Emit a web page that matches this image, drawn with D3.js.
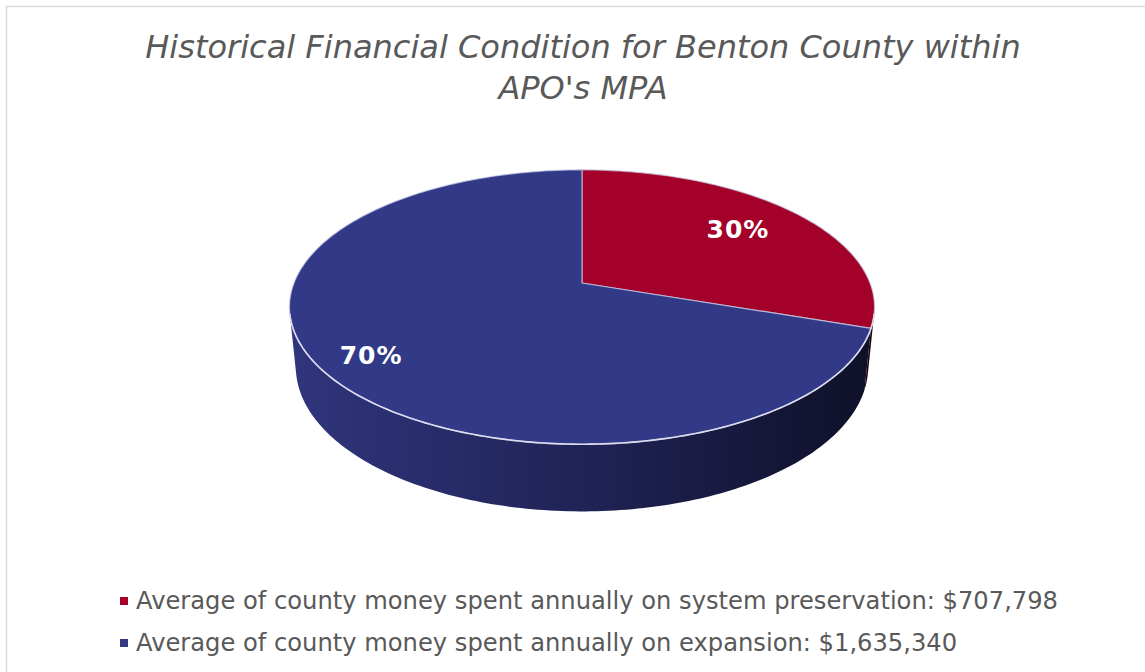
<!DOCTYPE html>
<html>
<head>
<meta charset="utf-8">
<script src="https://cdn.jsdelivr.net/npm/d3@7"></script>
<style>
  html, body { margin: 0; padding: 0; background: #ffffff; }
  svg { display: block; }
</style>
</head>
<body>
<svg id="chart" width="1145" height="672"></svg>
<script>
// ---- data ----
const titleLines = ["Historical Financial Condition for Benton County within", "APO's MPA"];
const categories = [
  "Average of county money spent annually on system preservation: $707,798",
  "Average of county money spent annually on expansion: $1,635,340"
];
const values = [707798, 1635340];
const topColors = ["#a30129", "#323a87"];
const sideColors = [["#5a0016", "#3a000e", "#22000a"], ["#30357c", "#202356", "#0f1029"]];

// ---- layout ----
const W = 1145, H = 672;
const svg = d3.select("#chart");
const cx = 582, cy = 283, R = 288, elev = 27.5 * Math.PI / 180, Dist = 1458, depth = 68;

// chart frame
svg.append("rect").attr("x", 6.5).attr("y", 6.5).attr("width", W + 10).attr("height", H + 10)
  .attr("fill", "none").attr("stroke", "#d9d9d9").attr("stroke-width", 1.5);

// title
const title = svg.append("text").attr("text-anchor", "middle")
  .attr("font-family", "DejaVu Sans, Verdana, sans-serif").attr("font-style", "italic")
  .attr("font-size", 32).attr("fill", "#595959");
titleLines.forEach((t, i) => title.append("tspan").attr("x", 583).attr("y", 58 + i * 41).text(t));

// projection of a point on the pie (angle from 12 o'clock clockwise, radius, height)
function project(theta, r, y) {
  const x = r * Math.sin(theta), z = -r * Math.cos(theta);
  const dz = -z * Math.cos(elev) - y * Math.sin(elev);
  const s = Dist / (Dist + dz);
  return [cx + x * s, cy + (z * Math.sin(elev) - y * Math.cos(elev)) * s];
}

const pie = d3.pie().sort(null).startAngle(0).endAngle(2 * Math.PI);
const arcs = pie(values);
const total = d3.sum(values);
const fmt = d3.format(".0%");

// visible side range
const thetaVis = Math.acos(-R / (Dist * Math.cos(elev)));
const visLo = thetaVis, visHi = 2 * Math.PI - thetaVis;

function arcPoints(a0, a1, r, y) {
  const n = Math.max(2, Math.ceil(Math.abs(a1 - a0) / (Math.PI / 180)));
  return d3.range(n + 1).map(i => project(a0 + (a1 - a0) * i / n, r, y));
}

const defs = svg.append("defs");
sideColors.forEach((c, i) => {
  const g = defs.append("linearGradient").attr("id", "side" + i)
    .attr("gradientUnits", "userSpaceOnUse")
    .attr("x1", cx - R).attr("x2", cx + R).attr("y1", 0).attr("y2", 0);
  g.append("stop").attr("offset", 0).attr("stop-color", c[0]);
  g.append("stop").attr("offset", 0.5).attr("stop-color", c[1]);
  g.append("stop").attr("offset", 1).attr("stop-color", c[2]);
});

const line = d3.line();

// side walls
arcs.forEach((a, i) => {
  const a0 = Math.max(a.startAngle, visLo), a1 = Math.min(a.endAngle, visHi);
  if (a1 <= a0) return;
  const top = arcPoints(a0, a1, R, 0);
  const bot = arcPoints(a0, a1, R, -depth).reverse();
  svg.append("path").attr("d", line(top.concat(bot)) + "Z")
    .attr("fill", `url(#side${i})`);
});

// top faces
arcs.forEach((a, i) => {
  const pts = [project(0, 0, 0)].concat(arcPoints(a.startAngle, a.endAngle, R, 0));
  svg.append("path").attr("d", line(pts) + "Z")
    .attr("fill", topColors[i])
    .attr("stroke", "#c9cbe6").attr("stroke-opacity", 0.75).attr("stroke-width", 1.2)
    .attr("stroke-linejoin", "round");
});

// front rim highlight
svg.append("path").attr("d", line(arcPoints(visLo, visHi, R, 0)))
  .attr("fill", "none").attr("stroke", "#dcdcef").attr("stroke-width", 1.6);

// data labels
const labelFrac = [0.715, 0.825];
const labelDy = [-2, 3];
arcs.forEach((a, i) => {
  const mid = (a.startAngle + a.endAngle) / 2;
  const p = project(mid, R * labelFrac[i], 0);
  svg.append("text").attr("x", p[0]).attr("y", p[1] + labelDy[i])
    .attr("text-anchor", "middle").attr("dominant-baseline", "central")
    .attr("font-family", "DejaVu Sans, Verdana, sans-serif").attr("font-weight", "bold")
    .attr("font-size", 25).attr("letter-spacing", 1).attr("fill", "#ffffff")
    .text(fmt(a.value / total));
});

// legend
const legend = svg.append("g");
categories.forEach((c, i) => {
  const y = 601 + i * 42;
  legend.append("rect").attr("x", 120).attr("y", y - 4).attr("width", 8).attr("height", 8)
    .attr("fill", topColors[i]);
  legend.append("text").attr("x", 136).attr("y", y).attr("dominant-baseline", "central")
    .attr("font-family", "DejaVu Sans, Verdana, sans-serif").attr("font-size", 24.2)
    .attr("fill", "#595959").text(c);
});
</script>
</body>
</html>
